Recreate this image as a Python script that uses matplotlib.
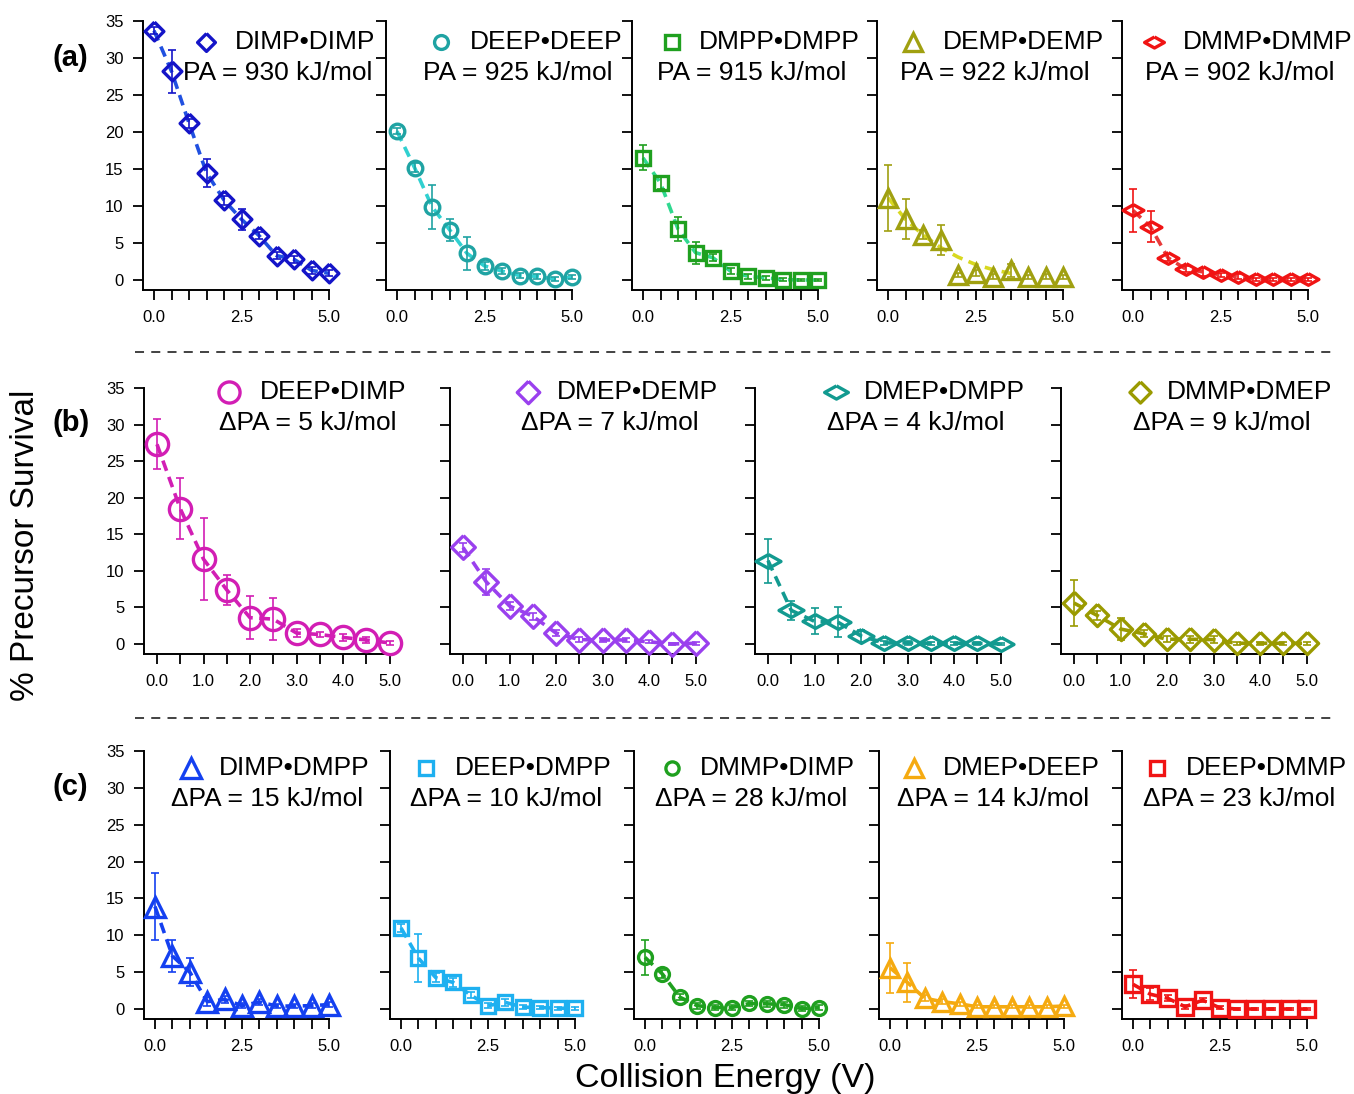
import numpy as np
import matplotlib.pyplot as plt
from matplotlib.lines import Line2D
from matplotlib.ticker import MultipleLocator

plt.rcParams['font.family'] = ['Liberation Sans', 'DejaVu Sans']

W, H = 1354, 1094

energy = [0.0, 0.5, 1.0, 1.5, 2.0, 2.5, 3.0, 3.5, 4.0, 4.5, 5.0]

DIAMOND = [(0, 1), (1, 0), (0, -1), (-1, 0), (0, 1)]
WIDE_DIAMOND = [(0, 1), (1.8, 0), (0, -1), (-1.8, 0), (0, 1)]

# ---- row (a): homodimers ----
a_names = ['DIMP•DIMP', 'DEEP•DEEP', 'DMPP•DMPP', 'DEMP•DEMP', 'DMMP•DMMP']
a_labels = ['PA = 930 kJ/mol', 'PA = 925 kJ/mol', 'PA = 915 kJ/mol',
            'PA = 922 kJ/mol', 'PA = 902 kJ/mol']
a_colors = ['#1414c8', '#1fa3a3', '#1fa01f', '#a0a010', '#f01414']
a_line_colors = ['#2050e0', '#30d0d0', '#30d890', '#d8d820', '#e83a3a']
a_markers = [DIAMOND, 'o', 's', '^', WIDE_DIAMOND]
a_sizes = [13.5, 10.5, 10, 13, 15]
a_values = [
    [33.7, 28.2, 21.2, 14.5, 10.8, 8.2, 6.0, 3.3, 2.8, 1.3, 0.9],
    [20.1, 15.2, 9.9, 6.8, 3.6, 1.9, 1.2, 0.6, 0.5, 0.1, 0.4],
    [16.5, 13.1, 6.9, 3.7, 3.0, 1.2, 0.5, 0.3, 0.05, 0.0, 0.0],
    [11.1, 8.3, 6.1, 5.4, 0.7, 0.9, 0.45, 1.3, 0.4, 0.45, 0.4],
    [9.4, 7.2, 3.0, 1.5, 1.1, 0.7, 0.45, 0.1, 0.1, 0.1, 0.1],
]
a_errors = [
    [0.5, 2.9, 0.6, 1.9, 0.6, 1.4, 0.5, 0.5, 0.5, 0.5, 0.4],
    [0.4, 0.6, 3.0, 1.5, 2.2, 0.5, 0.4, 0.3, 0.3, 0.3, 0.3],
    [1.7, 0.8, 1.6, 1.5, 0.5, 0.4, 0.3, 0.3, 0.2, 0.2, 0.2],
    [4.5, 2.7, 0.6, 2.0, 0.3, 0.4, 0.3, 0.9, 0.3, 0.3, 0.3],
    [2.9, 2.1, 0.5, 0.4, 0.5, 0.3, 0.3, 0.2, 0.2, 0.2, 0.2],
]
# fit curve for DEMP•DEMP (others follow the points)
demp_fit_x = [0.0, 0.5, 1.0, 1.5, 2.0, 2.5, 3.0, 3.5]
demp_fit_y = [11.1, 8.2, 6.1, 4.4, 3.1, 2.1, 1.4, 0.9]

# ---- row (b): small delta PA ----
b_names = ['DEEP•DIMP', 'DMEP•DEMP', 'DMEP•DMPP', 'DMMP•DMEP']
b_labels = ['ΔPA = 5 kJ/mol', 'ΔPA = 7 kJ/mol', 'ΔPA = 4 kJ/mol', 'ΔPA = 9 kJ/mol']
b_colors = ['#d21eb4', '#9a40ee', '#129a90', '#9a9a00']
b_line_colors = ['#d21eb4', '#9a40ee', '#129a90', '#9a9a00']
b_markers = ['o', DIAMOND, WIDE_DIAMOND, DIAMOND]
b_sizes = [16, 17, 18, 16]
b_values = [
    [27.3, 18.5, 11.6, 7.4, 3.6, 3.4, 1.5, 1.3, 0.9, 0.55, 0.15],
    [13.2, 8.5, 5.2, 3.8, 1.5, 0.6, 0.55, 0.55, 0.3, 0.0, 0.1],
    [11.4, 4.6, 3.1, 3.0, 1.1, 0.15, 0.15, 0.1, 0.1, 0.1, 0.0],
    [5.6, 3.9, 2.05, 1.4, 0.65, 0.65, 0.6, 0.1, 0.1, 0.1, 0.1],
]
b_errors = [
    [3.4, 4.2, 5.6, 2.0, 2.9, 2.85, 0.5, 0.4, 0.5, 0.4, 0.3],
    [0.6, 1.8, 0.6, 0.5, 0.4, 0.3, 0.3, 0.3, 0.2, 0.2, 0.2],
    [3.0, 1.3, 1.8, 2.0, 0.8, 0.3, 0.3, 0.2, 0.2, 0.2, 0.2],
    [3.2, 0.6, 1.5, 0.5, 0.4, 0.5, 0.5, 0.2, 0.2, 0.2, 0.2],
]

# ---- row (c): large delta PA ----
c_names = ['DIMP•DMPP', 'DEEP•DMPP', 'DMMP•DIMP', 'DMEP•DEEP', 'DEEP•DMMP']
c_labels = ['ΔPA = 15 kJ/mol', 'ΔPA = 10 kJ/mol', 'ΔPA = 28 kJ/mol',
            'ΔPA = 14 kJ/mol', 'ΔPA = 23 kJ/mol']
c_colors = ['#1440f0', '#1eb0f0', '#1fa01f', '#f5aa10', '#f01414']
c_line_colors = ['#1440f0', '#1eb0f0', '#1fa01f', '#f5aa10', '#f01414']
c_markers = ['^', 's', 'o', '^', 's']
c_sizes = [14.5, 10.5, 10, 13, 11]
c_values = [
    [13.9, 7.2, 5.0, 1.0, 1.3, 0.45, 0.95, 0.4, 0.4, 0.45, 0.6],
    [11.0, 6.9, 4.25, 3.6, 1.9, 0.45, 0.9, 0.25, 0.2, 0.1, 0.1],
    [7.0, 4.75, 1.6, 0.45, 0.2, 0.2, 0.75, 0.7, 0.6, 0.05, 0.2],
    [5.6, 3.6, 1.45, 1.0, 0.7, 0.3, 0.3, 0.3, 0.3, 0.3, 0.4],
    [3.35, 2.0, 1.45, 0.3, 1.2, 0.15, 0.0, 0.0, 0.0, 0.0, 0.0],
]
c_errors = [
    [4.6, 2.2, 1.9, 0.6, 0.5, 0.3, 0.4, 0.3, 0.3, 0.3, 0.3],
    [0.5, 3.3, 0.6, 0.6, 0.4, 0.3, 0.5, 0.3, 0.2, 0.2, 0.2],
    [2.4, 0.6, 0.4, 0.4, 0.3, 0.3, 0.4, 0.4, 0.4, 0.3, 0.3],
    [3.4, 2.6, 0.4, 0.3, 0.3, 0.2, 0.2, 0.2, 0.2, 0.2, 0.2],
    [1.9, 0.8, 0.4, 0.3, 0.3, 0.2, 0.2, 0.2, 0.2, 0.2, 0.2],
]

fig = plt.figure(figsize=(W / 100, H / 100), dpi=100)


def fx(px):
    return px / W


def fy(py):
    return 1 - py / H


def draw_row(names, labels, colors, lcolors, markers, sizes, values, errors,
             zero_px, unit_px, y_top, y_zero, x_left, xticks, xticklabels,
             leg_y, mk_off, name_off, lab_off, fits=None):
    py_unit = (y_zero - y_top) / 35.0
    y_bot_val = -1.4
    y_bottom = y_zero - y_bot_val * py_unit
    axes = []
    for i in range(len(names)):
        left = zero_px[i] + x_left * unit_px
        width = (5.0 - x_left) * unit_px
        ax = fig.add_axes([fx(left), fy(y_bottom), width / W, (y_bottom - y_top) / H])
        ax.set_xlim(x_left, 5.0)
        ax.set_ylim(y_bot_val, 35)
        for s in ['top', 'right']:
            ax.spines[s].set_visible(False)
        for s in ['left', 'bottom']:
            ax.spines[s].set_linewidth(1.4)
        ax.set_yticks(range(0, 36, 5))
        ax.set_xticks(xticks)
        ax.set_xticklabels(xticklabels)
        ax.xaxis.set_minor_locator(MultipleLocator(0.5))
        ax.tick_params(which='both', direction='out', length=7, width=1.3,
                       labelsize=12, pad=7)
        if i > 0:
            ax.tick_params(axis='y', labelleft=False)
        ax.patch.set_alpha(0)

        if fits is not None and fits[i] is not None:
            ax.plot(fits[i][0], fits[i][1], color=lcolors[i], lw=2.6,
                    dashes=(3, 1.8), clip_on=False, zorder=2)
        else:
            ax.plot(energy, values[i], color=lcolors[i], lw=2.6,
                    dashes=(3, 1.8), clip_on=False, zorder=2)
        ax.errorbar(energy, values[i], yerr=errors[i], fmt='none',
                    ecolor=colors[i], elinewidth=1.2, capsize=3, capthick=1.2,
                    clip_on=False, zorder=3)
        ax.plot(energy, values[i], ls='none', marker=markers[i], ms=sizes[i],
                mfc='none', mec=colors[i], mew=2.4, clip_on=False, zorder=4)

        # in-panel key
        fig.add_artist(Line2D([fx(zero_px[i] + mk_off[i])], [fy(leg_y)],
                              ls='none', marker=markers[i], ms=sizes[i] * 0.95,
                              mfc='none', mec=colors[i], mew=2.4,
                              transform=fig.transFigure))
        fig.text(fx(zero_px[i] + name_off[i]), fy(leg_y), names[i],
                 fontsize=19, va='center', ha='left')
        fig.text(fx(zero_px[i] + lab_off[i]), fy(leg_y + 31), labels[i],
                 fontsize=19, va='center', ha='left')
        axes.append(ax)
    return axes


draw_row(a_names, a_labels, a_colors, a_line_colors, a_markers, a_sizes,
         a_values, a_errors,
         zero_px=[154, 397, 643, 888, 1133], unit_px=35.0, y_top=21, y_zero=280,
         x_left=-0.32, xticks=[0, 2.5, 5], xticklabels=['0.0', '2.5', '5.0'],
         leg_y=42, mk_off=[52, 44, 29, 25, 21], name_off=[81, 73, 56, 55, 50],
         lab_off=[29, 26, 14, 12, 12],
         fits=[None, None, None, (demp_fit_x, demp_fit_y), None])

draw_row(b_names, b_labels, b_colors, b_line_colors, b_markers, b_sizes,
         b_values, b_errors,
         zero_px=[157, 463, 768, 1074], unit_px=46.5, y_top=388, y_zero=644,
         x_left=-0.28, xticks=[0, 1, 2, 3, 4, 5],
         xticklabels=['0.0', '1.0', '2.0', '3.0', '4.0', '5.0'],
         leg_y=392, mk_off=[72, 65, 68, 66], name_off=[103, 94, 96, 93],
         lab_off=[62, 58, 59, 59])

draw_row(c_names, c_labels, c_colors, c_line_colors, c_markers, c_sizes,
         c_values, c_errors,
         zero_px=[155, 401, 645, 890, 1133], unit_px=34.8, y_top=751, y_zero=1009,
         x_left=-0.32, xticks=[0, 2.5, 5], xticklabels=['0.0', '2.5', '5.0'],
         leg_y=768, mk_off=[36, 25, 27, 24, 24], name_off=[64, 54, 55, 53, 53],
         lab_off=[16, 9, 10, 7, 10])

# separators between rows
for yy in [352, 718]:
    fig.add_artist(Line2D([fx(135), fx(1335)], [fy(yy), fy(yy)],
                          transform=fig.transFigure, color='#333333',
                          lw=1.3, ls=(0, (5, 4))))

for lab, yy in [('(a)', 58), ('(b)', 423), ('(c)', 787)]:
    fig.text(fx(53), fy(yy), lab, fontsize=21, fontweight='bold',
             va='center', ha='left')

fig.text(fx(26), fy(545), '% Precursor Survival', fontsize=24,
         rotation=90, va='center', ha='center')
fig.text(fx(725), fy(1078), 'Collision Energy (V)', fontsize=24.5,
         va='center', ha='center')

fig.savefig('out.png', dpi=100)
